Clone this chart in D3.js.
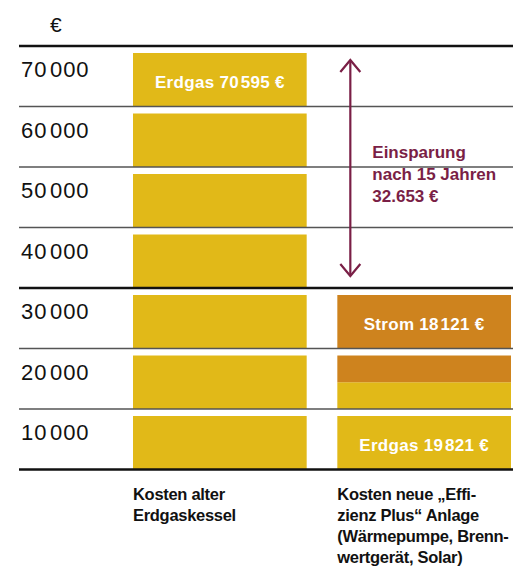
<!DOCTYPE html>
<html>
<head>
<meta charset="utf-8">
<script src="https://cdn.jsdelivr.net/npm/d3@7"></script>
<style>
    body { margin: 0; background: #fff; }
    text { font-family: "Liberation Sans", Arial, Helvetica, sans-serif; }
</style>
</head>
<body>
<svg width="513" height="569"></svg>
<script>
const width = 513;
const height = 569;

// Daten
const categories = ["alt", "neu"];
const categoryLines = [
    ["Kosten alter", "Erdgaskessel"],
    ["Kosten neue „Effi-", "zienz Plus“ Anlage", "(Wärmepumpe, Brenn-", "wertgerät, Solar)"],
];
const gasCost = [70595, 19821];
const stromCost = [0, 18121];
// so hoch wie in der Grafik gezeichnet (Bloecke zu 10 000 €)
const gasShown = [70000, 15000];
const stromShown = [0, 15000];
const yTicks = [10000, 20000, 30000, 40000, 50000, 60000, 70000];
const thickLines = [0, 30000, 70000];
const savingRange = [30000, 70000];
const savingText = ["Einsparung", "nach 15 Jahren", "32.653 €"];

const colors = { gas: "#e1b918", strom: "#ce831e" };
const purple = "#7a1f46";
const step = 10000;
const gap = 7;

const fmt = d3.formatLocale({ decimal: ",", thousands: "\u200A", grouping: [3], currency: ["", ""] }).format(",d");

const svg = d3.select("svg");

const y = d3.scaleLinear().domain([0, 70000]).range([469.5, 46]);
const x = d3.scaleBand().domain(categories).range([133, 511]).paddingInner(0.15);

// Wert innerhalb eines Blocks -> Pixel (oben bleibt eine Luecke)
const yIn = (v, b0) => y(b0) + ((v - b0) / step) * (y(b0 + step) + gap - y(b0));

const rows = categories.map((c, i) => ({ cat: c, gas: gasShown[i], strom: stromShown[i] }));
const series = d3.stack().keys(["gas", "strom"])(rows);
const bandStarts = d3.range(0, 70000, step);

const pieces = [];
const labels = [];
series.forEach((s) => {
    s.forEach((d, i) => {
        const [s0, s1] = d;
        bandStarts.forEach((b0) => {
            const lo = Math.max(s0, b0);
            const hi = Math.min(s1, b0 + step);
            if (hi > lo) {
                pieces.push({ key: s.key, cat: rows[i].cat, top: yIn(hi, b0), bottom: yIn(lo, b0) });
            }
        });
        const value = s.key === "gas" ? gasCost[i] : stromCost[i];
        const full = bandStarts.filter((b0) => b0 >= s0 && b0 + step <= s1);
        if (value > 0 && full.length) {
            labels.push({
                cat: rows[i].cat,
                b0: d3.max(full),
                text: (s.key === "gas" ? "Erdgas " : "Strom ") + fmt(value) + " €",
            });
        }
    });
});

// Balken
svg.append("g")
    .selectAll("rect")
    .data(pieces)
    .join("rect")
    .attr("x", (d) => x(d.cat))
    .attr("width", x.bandwidth())
    .attr("y", (d) => d.top)
    .attr("height", (d) => d.bottom - d.top)
    .attr("fill", (d) => colors[d.key]);

// Linien
svg.append("g")
    .selectAll("line")
    .data([0, ...yTicks])
    .join("line")
    .attr("x1", 19)
    .attr("x2", width)
    .attr("y1", (d) => y(d))
    .attr("y2", (d) => y(d))
    .attr("stroke", (d) => (thickLines.includes(d) ? "#111" : "#555"))
    .attr("stroke-width", (d) => (thickLines.includes(d) ? 2.6 : 1.5));

// Achsenbeschriftung
svg.append("g")
    .selectAll("text")
    .data(yTicks)
    .join("text")
    .attr("x", 21)
    .attr("y", (d) => y(d) + 31)
    .attr("font-size", 22)
    .attr("letter-spacing", 0.9)
    .attr("fill", "#111")
    .text((d) => fmt(d));

svg.append("text")
    .attr("x", 50)
    .attr("y", y(70000) - 14)
    .attr("font-size", 21)
    .attr("fill", "#111")
    .text("€");

// Balkenbeschriftung
svg.append("g")
    .selectAll("text")
    .data(labels)
    .join("text")
    .attr("x", (d) => x(d.cat) + x.bandwidth() / 2)
    .attr("y", (d) => y(d.b0) - 18.5)
    .attr("text-anchor", "middle")
    .attr("font-size", 17)
    .attr("font-weight", "bold")
    .attr("letter-spacing", 0.3)
    .attr("fill", "#fff")
    .text((d) => d.text);

// Kategorien unten
const cat = svg.append("g")
    .selectAll("text")
    .data(categories)
    .join("text")
    .attr("x", (d) => x(d))
    .attr("y", y(0) + 30.5)
    .attr("font-size", 16.5)
    .attr("letter-spacing", -0.3)
    .attr("font-weight", "bold")
    .attr("fill", "#111");
cat.selectAll("tspan")
    .data((d, i) => categoryLines[i])
    .join("tspan")
    .attr("x", function () { return d3.select(this.parentNode).attr("x"); })
    .attr("dy", (d, i) => (i === 0 ? 0 : 21))
    .text((d) => d);

// Einsparung Pfeil
const ax = x("neu") + 13;
const aTop = y(savingRange[1]) + 14;
const aBot = y(savingRange[0]) - 12;
const arrow = svg.append("g")
    .attr("stroke", purple)
    .attr("stroke-width", 2.2)
    .attr("fill", "none");
arrow.append("line").attr("x1", ax).attr("x2", ax).attr("y1", aTop).attr("y2", aBot);
arrow.append("path").attr("d", `M${ax - 10},${aTop + 12}L${ax},${aTop}L${ax + 10},${aTop + 12}`);
arrow.append("path").attr("d", `M${ax - 10},${aBot - 12}L${ax},${aBot}L${ax + 10},${aBot - 12}`);

svg.append("text")
    .attr("font-size", 17)
    .attr("font-weight", "bold")
    .attr("fill", purple)
    .selectAll("tspan")
    .data(savingText)
    .join("tspan")
    .attr("x", ax + 22)
    .attr("y", (d, i) => (aTop + aBot) / 2 - 10 + i * 21.8)
    .text((d) => d);
</script>
</body>
</html>
